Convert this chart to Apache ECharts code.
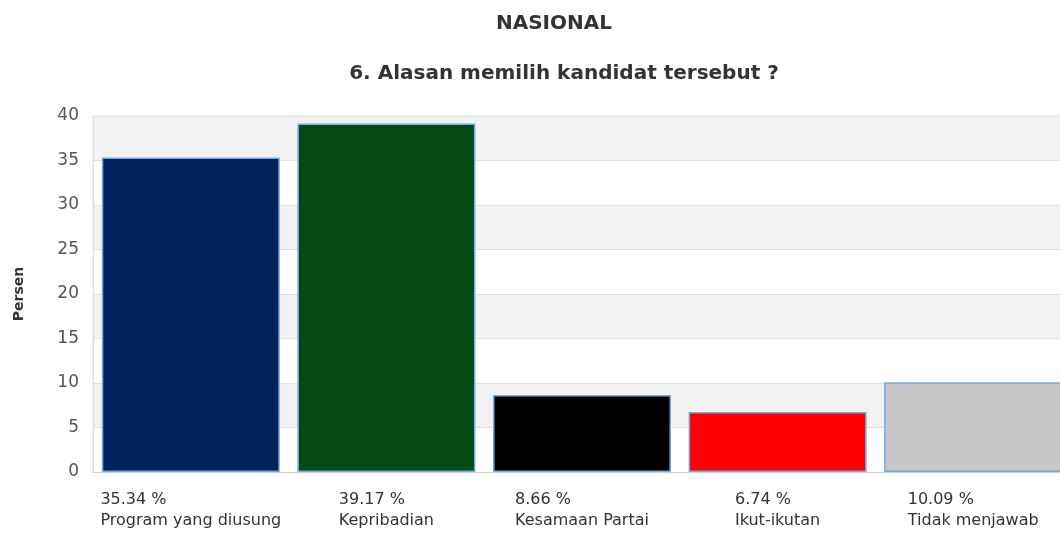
<!DOCTYPE html>
<html>
<head>
<meta charset="utf-8">
<script src="https://cdn.jsdelivr.net/npm/echarts@6/dist/echarts.min.js"></script>
<style>
  html, body { margin: 0; padding: 0; background: #fff; }
  #main { width: 1060px; height: 533px; }
</style>
</head>
<body>
<div id="main"></div>
<script>
const categories = ['Program yang diusung', 'Kepribadian', 'Kesamaan Partai', 'Ikut-ikutan', 'Tidak menjawab']
const values = [35.34, 39.17, 8.66, 6.74, 10.09]
const barColors = ['#01215e', '#034a13', '#000000', '#ff0000', '#c8c8c8']
const yTicks = [0, 5, 10, 15, 20, 25, 30, 35, 40]

const myChart = echarts.init(document.getElementById('main'))

const titleFont = { fontFamily: 'DejaVu Sans', fontSize: 20, fontWeight: 'bold', color: '#333' }

const option = {
    animation: false,
    title: [
        { text: 'NASIONAL', left: 549, top: 9, textAlign: 'center', textStyle: titleFont },
        { text: '6. Alasan memilih kandidat tersebut ?', left: 559, top: 59, textAlign: 'center', textStyle: titleFont }
    ],
    grid: {
        left: 93,
        top: 116,
        width: 978,
        height: 356,
        outerBoundsMode: 'none',
        containLabel: false,
        show: true,
        borderColor: '#e0e0e0',
        borderWidth: 1,
        backgroundColor: 'transparent'
    },
    xAxis: {
        type: 'category',
        data: categories,
        axisLine: { lineStyle: { color: '#d0d0d0' } },
        axisTick: { show: false },
        axisLabel: {
            interval: 0,
            margin: 17,
            align: 'center',
            formatter: (name, idx) => '{a|' + values[idx].toFixed(2) + ' %}\n{a|' + name + '}',
            rich: {
                a: { align: 'left', fontFamily: 'DejaVu Sans', fontSize: 16, color: '#333', lineHeight: 21 }
            }
        }
    },
    yAxis: {
        type: 'value',
        min: yTicks[0],
        max: yTicks[yTicks.length - 1],
        interval: 5,
        name: 'Persen',
        nameLocation: 'middle',
        nameGap: 67,
        nameRotate: 90,
        nameTextStyle: { fontFamily: 'DejaVu Sans', fontSize: 14, fontWeight: 'bold', color: '#333' },
        axisLine: { show: true, lineStyle: { color: '#e0e0e0' } },
        axisTick: { show: false },
        axisLabel: { margin: 14, fontFamily: 'DejaVu Sans', fontSize: 17, color: '#555' },
        splitLine: { lineStyle: { color: '#e2e2e2' } },
        splitArea: { show: true, areaStyle: { color: ['#ffffff', '#f2f2f2'] } }
    },
    series: [
        {
            type: 'bar',
            barCategoryGap: '9%',
            data: values.map((v, i) => ({
                value: v,
                itemStyle: { color: barColors[i] }
            })),
            itemStyle: { borderColor: '#6faaea', borderWidth: 1.5 }
        }
    ]
}

option && myChart.setOption(option)

window.onresize = () => {
    myChart.resize()
}
</script>
</body>
</html>
